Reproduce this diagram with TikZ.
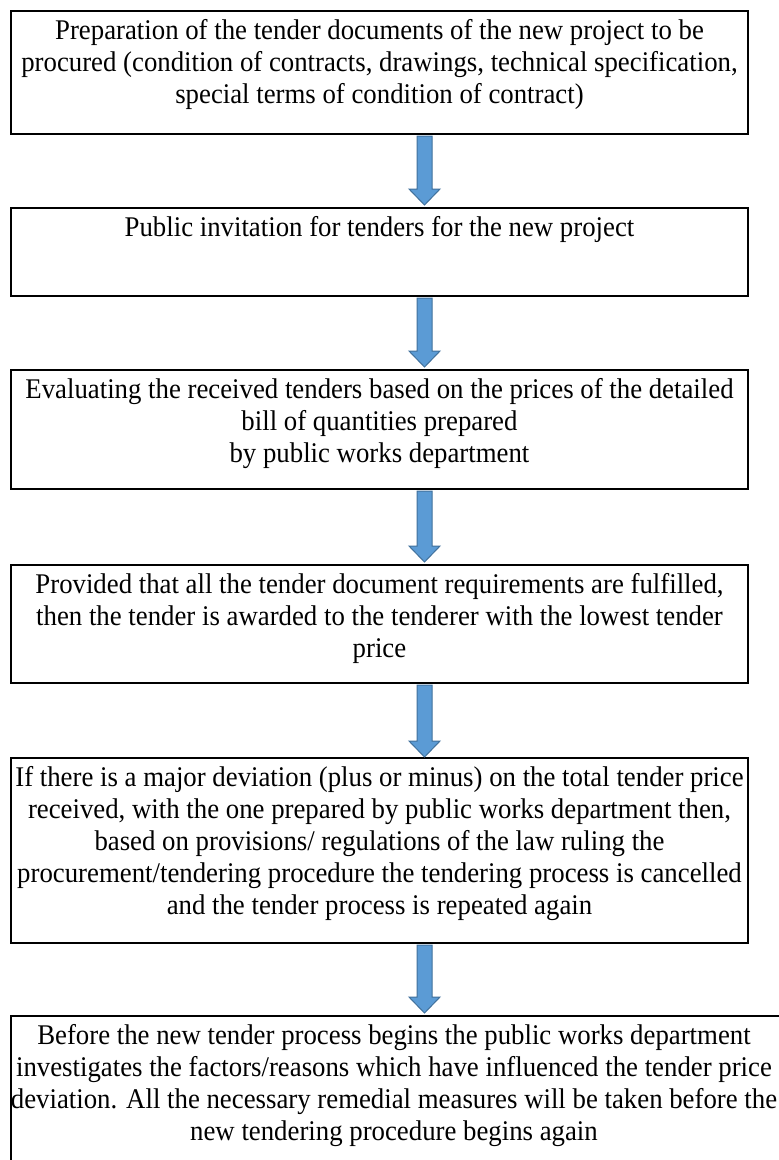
\documentclass[tikz,border=0pt]{standalone}
\usepackage{fontspec}
\setmainfont{Liberation Serif}[FakeStretch=0.94]
\usetikzlibrary{calc}
\definecolor{arrfill}{HTML}{5B9BD5}
\definecolor{arrdraw}{HTML}{41719C}
\tikzset{
  box/.style={draw=black, line width=2.25pt, rectangle, inner sep=0pt, outer sep=0pt, anchor=north west},
  txt/.style={anchor=north, inner sep=0pt, align=center, font=\fontsize{28.5}{32}\selectfont},
  arr/.style={fill=arrfill, draw=arrdraw, line width=1pt, line join=miter}
}
\newcommand\blockarrow[2]{%
  \draw[arr] let \p1=(#1), \p2=(#2) in
    (\x1-7.5pt,\y1) -- (\x1+7.5pt,\y1) -- (\x1+7.5pt,\y2+16pt) -- (\x1+15.5pt,\y2+16pt)
    -- (\x1,\y2) -- (\x1-15.5pt,\y2+16pt) -- (\x1-7.5pt,\y2+16pt) -- cycle;}
\begin{document}
\begin{tikzpicture}[x=1pt,y=-1pt]
\clip (0,0) rectangle (779,1160);
\fill[white] (0,0) rectangle (779,1160);
\coordinate (ax) at (424.5,0);
\node[box, minimum width=737pt, minimum height=123pt] (b1) at (11,11) {};
\node[box, minimum width=737pt, minimum height=88pt] (b2) at (11,208) {};
\node[box, minimum width=737pt, minimum height=119pt] (b3) at (11,370) {};
\node[box, minimum width=737pt, minimum height=118pt] (b4) at (11,565) {};
\node[box, minimum width=737pt, minimum height=185pt] (b5) at (11,758) {};
\node[box, minimum width=790pt, minimum height=170pt] (b6) at (11,1016) {};
\node[txt] (t1) at ($(b1.north)+(0,5.6)$) {\strut Preparation of the tender documents of the new project to be\\procured (condition of contracts, drawings, technical specification,\\special terms of condition of contract)};
\node[txt] (t2) at ($(b2.north)+(0,5.6)$) {\strut Public invitation for tenders for the new project};
\node[txt] (t3) at ($(b3.north)+(0,5.6)$) {\strut Evaluating the received tenders based on the prices of the detailed\\bill of quantities prepared\\by public works department};
\node[txt] (t4) at ($(b4.north)+(0,5.6)$) {\strut Provided that all the tender document requirements are fulfilled,\\then the tender is awarded to the tenderer with the lowest tender\\price};
\node[txt] (t5) at ($(b5.north)+(0,5.6)$) {\strut If there is a major deviation (plus or minus) on the total tender price\\received, with the one prepared by public works department then,\\based on provisions/ regulations of the law ruling the\\procurement/tendering procedure the tendering process is cancelled\\and the tender process is repeated again};
\node[txt] (t6) at (394,1021.6) {\strut Before the new tender process begins the public works department\\investigates the factors/reasons which have influenced the tender price\\deviation. All the necessary remedial measures will be taken before the\\new tendering procedure begins again};
\blockarrow{$(b1.south -| ax)+(0,2)$}{$(b2.north -| ax)+(0,-3)$}
\blockarrow{$(b2.south -| ax)+(0,2)$}{$(b3.north -| ax)+(0,-3)$}
\blockarrow{$(b3.south -| ax)+(0,2)$}{$(b4.north -| ax)+(0,-3)$}
\blockarrow{$(b4.south -| ax)+(0,2)$}{$(b5.north -| ax)+(0,-1)$}
\blockarrow{$(b5.south -| ax)+(0,2)$}{$(b6.north -| ax)+(0,-3)$}
\end{tikzpicture}
\end{document}
